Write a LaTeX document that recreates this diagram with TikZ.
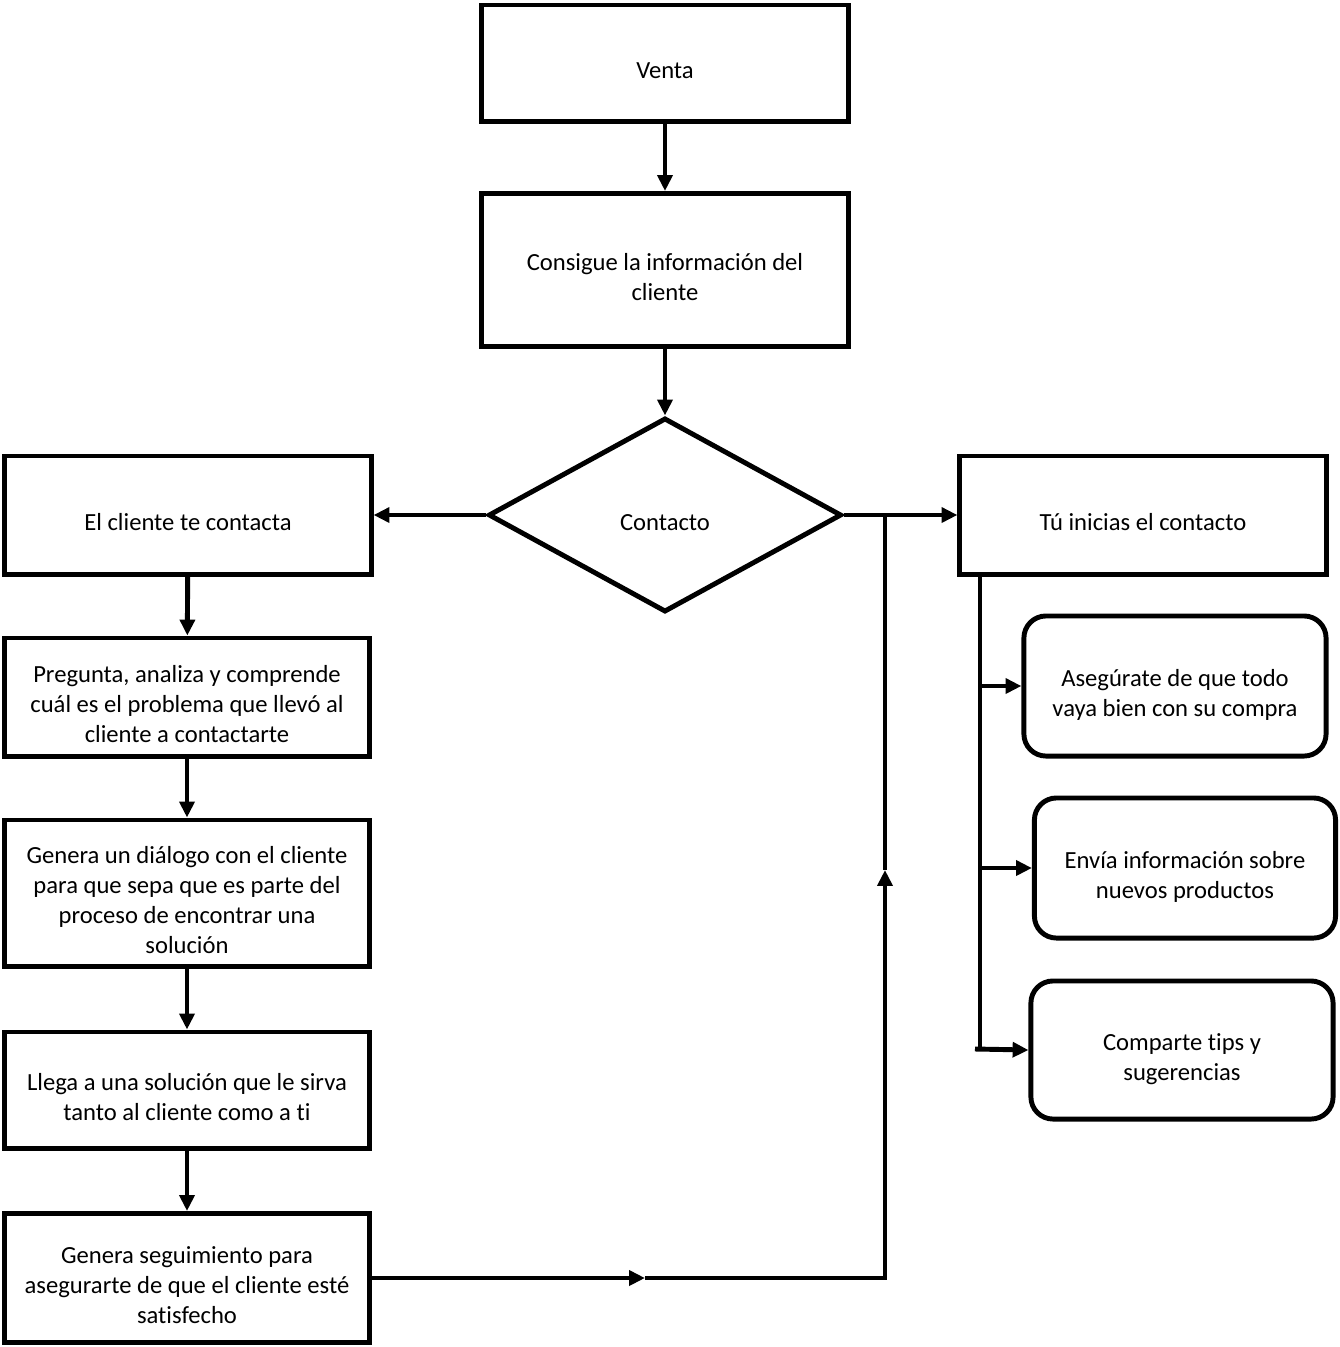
\documentclass[tikz,border=0pt]{standalone}
\usepackage{fontspec}
\setmainfont[Ligatures=NoCommon]{Carlito}
\usetikzlibrary{shapes.geometric, arrows.meta}

\newcommand{\boxtext}[1]{\raisebox{-2.7pt}[\height][\depth]{\begin{tabular}{@{}c@{}}#1\end{tabular}}}

\begin{document}
\begin{tikzpicture}[x=0.01cm, y=-0.01cm,
    font=\fontsize{7}{8.6}\selectfont,
    every path/.style={line width=1.4pt},
    stepbox/.style={draw, rectangle, inner sep=0pt},
    roundbox/.style={draw, rectangle, rounded corners=0.22cm, inner sep=0pt},
    arr/.style={-{Triangle[length=4.5pt,width=4.2pt]}}]
            \useasboundingbox (0,0) rectangle (1340,1347);

            \node[stepbox, minimum width=3.66cm, minimum height=1.16cm] (venta) at (665,63) {\boxtext{Venta}};
            \node[stepbox, minimum width=3.66cm, minimum height=1.53cm] (info) at (665,270) {\boxtext{Consigue la información del\\cliente}};
            \node[draw, diamond, minimum width=3.53cm, minimum height=1.94cm, inner sep=0pt] (contacto) at (665,515) {\boxtext{Contacto}};

            \node[stepbox, minimum width=3.66cm, minimum height=1.18cm] (clientec) at (188,515) {\boxtext{El cliente te contacta}};
            \node[stepbox, minimum width=3.65cm, minimum height=1.18cm] (pregunta) at (187,697) {\boxtext{Pregunta, analiza y comprende\\cuál es el problema que llevó al\\cliente a contactarte}};
            \node[stepbox, minimum width=3.65cm, minimum height=1.46cm] (dialogo) at (187,893) {\boxtext{Genera un diálogo con el cliente\\para que sepa que es parte del\\proceso de encontrar una\\solución}};
            \node[stepbox, minimum width=3.65cm, minimum height=1.16cm] (solucion) at (187,1090) {\boxtext{Llega a una solución que le sirva\\tanto al cliente como a ti}};
            \node[stepbox, minimum width=3.65cm, minimum height=1.29cm] (seguim) at (187,1278) {\boxtext{Genera seguimiento para\\asegurarte de que el cliente esté\\satisfecho}};

            \node[stepbox, minimum width=3.66cm, minimum height=1.18cm] (tuinicias) at (1143,515) {\boxtext{Tú inicias el contacto}};
            \node[roundbox, minimum width=3.02cm, minimum height=1.40cm] (asegura) at (1175,686) {\boxtext{Asegúrate de que todo\\vaya bien con su compra}};
            \node[roundbox, minimum width=3.01cm, minimum height=1.40cm] (envia) at (1185,868) {\boxtext{Envía información sobre\\nuevos productos}};
            \node[roundbox, minimum width=3.02cm, minimum height=1.38cm] (comparte) at (1182,1050) {\boxtext{Comparte tips y\\sugerencias}};

            \coordinate (medio) at (645,1278);
            \coordinate (esquina) at (885,1278);
            \coordinate (subida) at (885,870);
            \coordinate (union) at (885,515);
            \coordinate (ramal) at (980,576);
            \coordinate (r1) at (980,686);
            \coordinate (r2) at (980,868);
            \coordinate (r3) at (975,1049);
            \coordinate (r3b) at (980,1049);

            \draw[arr] (venta) -- (info);
            \draw[arr] (info) -- (contacto);
            \draw[arr] (contacto.west) -- (clientec.east);
            \draw[arr] (contacto.east) -- (tuinicias.west);

            \draw[arr] (clientec) -- (pregunta);
            \draw[arr] (pregunta) -- (dialogo);
            \draw[arr] (dialogo) -- (solucion);
            \draw[arr] (solucion) -- (seguim);

            \draw[arr] (seguim.east) -- (medio);
            \draw[arr] (medio) -- (esquina) -- (subida);
            \draw (subida) -- (union);

            \draw (ramal) -- (r3b);
            \draw[arr] (r1) -- (asegura.west);
            \draw[arr] (r2) -- (envia.west);
            \draw[arr] (r3) -- (comparte.west);
        \end{tikzpicture}
\end{document}
